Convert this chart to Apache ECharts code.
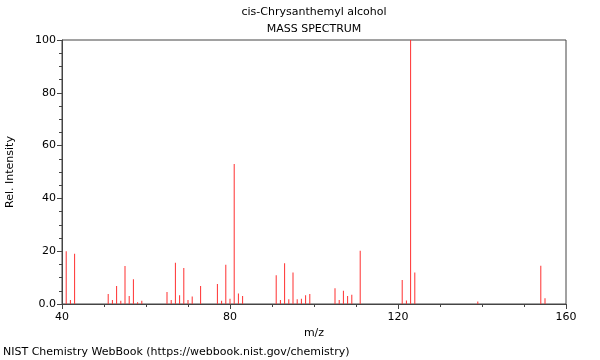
<!DOCTYPE html>
<html><head><meta charset="utf-8">
<script src="https://cdn.jsdelivr.net/npm/echarts@6/dist/echarts.min.js"></script>
<style>html,body{margin:0;padding:0;background:#fff}#c{width:600px;height:360px}</style>
</head><body><div id="c"></div>
<script>
var chartTitle = 'cis-Chrysanthemyl alcohol';
var chartSubtitle = 'MASS SPECTRUM';
var footer = 'NIST Chemistry WebBook (https://webbook.nist.gov/chemistry)';
var mz = [41,42,43,51,52,53,54,55,56,57,58,59,65,66,67,68,69,70,71,73,77,78,79,80,81,82,83,91,92,93,94,95,96,97,98,99,105,106,107,108,109,111,121,122,123,124,139,154,155];
var intensity = [20,1.5,19,3.8,1.5,6.8,1.2,14.4,3,9.4,0.7,1.2,4.5,1.5,15.6,3.3,13.6,1.5,2.8,6.8,7.6,1.2,14.9,2,53,4,3,10.9,1.5,15.4,1.8,11.9,1.8,2,3.3,3.8,6,1.5,5,3,3.5,20.2,9.1,1.3,100,11.9,0.9,14.5,2.2];
var font = 'DejaVu Sans';
var chart = echarts.init(document.getElementById('c'));
chart.setOption({
  animation: false,
  title: [
    {text: chartTitle, left: 314, top: 7, padding: 0, textAlign: 'center', textStyle: {fontFamily: font, fontSize: 11, fontWeight: 'normal', color: '#000'}},
    {text: chartSubtitle, left: 314, top: 24, padding: 0, textAlign: 'center', textStyle: {fontFamily: font, fontSize: 11, fontWeight: 'normal', color: '#000'}},
    {text: footer, left: 3, top: 347, padding: 0, textStyle: {fontFamily: font, fontSize: 11, fontWeight: 'normal', color: '#000'}}
  ],
  grid: {left: 62, right: 34, top: 40, bottom: 56, outerBoundsMode: 'none', containLabel: false, show: true, borderColor: '#444', borderWidth: 1, backgroundColor: 'transparent'},
  xAxis: {
    type: 'value', min: 40, max: 160, interval: 40,
    name: 'm/z', nameLocation: 'middle', nameGap: 24,
    nameTextStyle: {fontFamily: font, fontSize: 11, color: '#000'},
    axisLine: {show: true, lineStyle: {color: '#444'}},
    axisTick: {show: true, length: 5, lineStyle: {color: '#444'}},
    minorTick: {show: true, splitNumber: 4, length: 3, lineStyle: {color: '#444'}},
    splitLine: {show: false},
    axisLabel: {fontFamily: font, fontSize: 11, color: '#000', margin: 8}
  },
  yAxis: {
    type: 'value', min: 0, max: 100, interval: 20,
    name: 'Rel. Intensity', nameLocation: 'middle', nameGap: 46,
    nameTextStyle: {fontFamily: font, fontSize: 11, color: '#000'},
    axisLine: {show: true, lineStyle: {color: '#444'}},
    axisTick: {show: true, length: 5, lineStyle: {color: '#444'}},
    minorTick: {show: true, splitNumber: 4, length: 3, lineStyle: {color: '#444'}},
    splitLine: {show: false},
    axisLabel: {fontFamily: font, fontSize: 11, color: '#000', margin: 6,
      formatter: function (v) { return v === 0 ? '0.0' : String(v); }}
  },
  series: [{
    type: 'bar', barWidth: 1,
    itemStyle: {color: '#ff3030'},
    data: mz.map(function (m, i) { return [m, intensity[i]]; })
  }]
});
</script></body></html>
